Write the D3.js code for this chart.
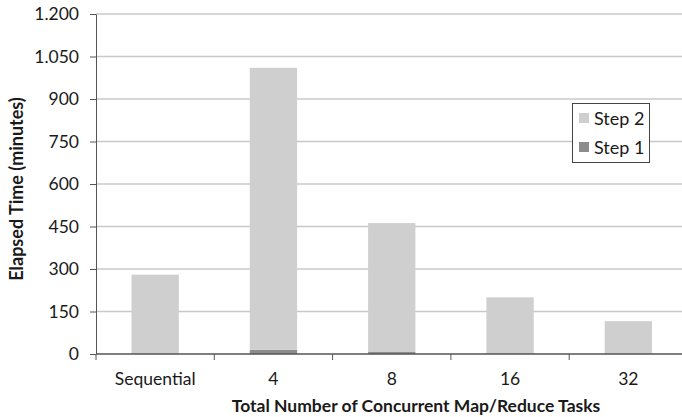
<!DOCTYPE html>
<html>
<head>
<meta charset="utf-8">
<script src="https://cdn.jsdelivr.net/npm/d3@7/dist/d3.min.js"></script>
<style>
  html, body { margin: 0; padding: 0; background: #fff; }
  svg { display: block; }
  text { font-family: Lato, "Open Sans", sans-serif; fill: #1a1a1a; }
</style>
</head>
<body>
<svg id="chart" width="682" height="417"></svg>
<script>
const categories = ["Sequential", "4", "8", "16", "32"];
const step1 = [0, 15, 7, 2, 1];
const step2 = [280, 995, 455, 198, 115];
const yTicks = [0, 150, 300, 450, 600, 750, 900, 1050, 1200];
const seriesNames = ["Step 1", "Step 2"];
const seriesColors = ["#8c8c8c", "#cfcfcf"];

(function () {
const W = 682, H = 417;
const mLeft = 96, mTop = 14, mBottom = 354;
const plotRight = 687.5;

const svg = d3.select("#chart");

const x = d3.scaleBand().domain(categories).range([mLeft, plotRight])
  .paddingInner(0.6).paddingOuter(0.3);
const y = d3.scaleLinear().domain([0, 1200]).range([mBottom, mTop]);

const locale = d3.formatLocale({decimal: ",", thousands: ".", grouping: [3], currency: ["", ""]});
const fmt = locale.format(",");

// gridlines
svg.append("g").selectAll("line").data(yTicks.filter(d => d > 0)).join("line")
  .attr("x1", mLeft).attr("x2", W)
  .attr("y1", d => y(d)).attr("y2", d => y(d))
  .attr("stroke", "#c8c8c8").attr("stroke-width", 1.5);

// stacked bars
const rows = categories.map((c, i) => ({cat: c, "Step 1": step1[i], "Step 2": step2[i]}));
const stack = d3.stack().keys(seriesNames)(rows);
svg.append("g").selectAll("g").data(stack).join("g")
  .attr("fill", (d, i) => seriesColors[i])
  .selectAll("rect").data(d => d).join("rect")
  .attr("x", d => x(d.data.cat))
  .attr("width", x.bandwidth())
  .attr("y", d => y(d[1]))
  .attr("height", d => y(d[0]) - y(d[1]));

// y axis
const yAxis = d3.axisLeft(y).tickValues(yTicks).tickFormat(fmt).tickSizeInner(6).tickSizeOuter(0).tickPadding(11);
const gy = svg.append("g").attr("transform", `translate(${mLeft},0)`).call(yAxis);
gy.select(".domain").attr("stroke", "#555");
gy.selectAll(".tick line").attr("stroke", "#555");
gy.selectAll(".tick text").style("font-size", "17.5px").style("font-family", "Lato, sans-serif").attr("fill", "#1a1a1a");

// x axis
const xAxis = d3.axisBottom(x).tickSize(0).tickPadding(19);
const gx = svg.append("g").attr("transform", `translate(0,${mBottom})`).call(xAxis);
gx.select(".domain").remove();
gx.selectAll(".tick text").style("font-size", "17.5px").style("font-family", "Lato, sans-serif").attr("fill", "#1a1a1a");
svg.append("line").attr("x1", mLeft).attr("x2", W).attr("y1", mBottom).attr("y2", mBottom)
  .attr("stroke", "#555").attr("stroke-width", 1.5);
// boundary ticks
const bounds = [mLeft].concat(categories.map(c => x(c) + x.bandwidth() / 2 + x.step() / 2));
svg.append("g").selectAll("line").data(bounds).join("line")
  .attr("x1", d => d).attr("x2", d => d)
  .attr("y1", mBottom).attr("y2", mBottom + 6)
  .attr("stroke", "#555");

// axis titles
svg.append("text").attr("x", 416).attr("y", 412).attr("text-anchor", "middle")
  .style("font-size", "17.5px").style("font-weight", "bold").text("Total Number of Concurrent Map/Reduce Tasks");
svg.append("text").attr("transform", `translate(23,189) rotate(-90)`).attr("text-anchor", "middle")
  .style("font-size", "18px").style("font-weight", "bold").text("Elapsed Time (minutes)");

// legend
const lg = svg.append("g");
lg.append("rect").attr("x", 572.5).attr("y", 103.5).attr("width", 77).attr("height", 59)
  .attr("fill", "#fff").attr("stroke", "#444");
const legendItems = [{name: "Step 2", color: seriesColors[1]}, {name: "Step 1", color: seriesColors[0]}];
legendItems.forEach((d, i) => {
  lg.append("rect").attr("x", 579).attr("y", 113 + i * 29).attr("width", 10).attr("height", 10).attr("fill", d.color);
  lg.append("text").attr("x", 594).attr("y", 125 + i * 29).style("font-size", "18px").text(d.name);
});
})();
</script>
</body>
</html>
